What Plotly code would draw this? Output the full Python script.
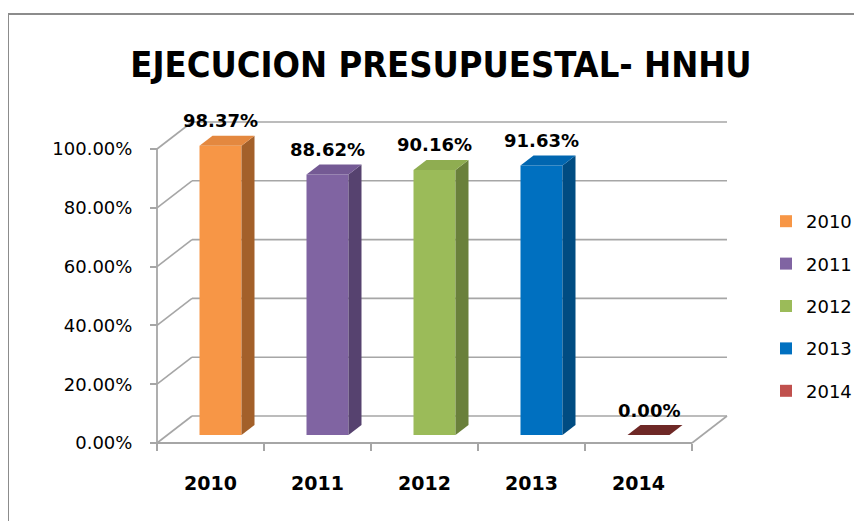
import plotly.graph_objects as go

# ---------------- data ----------------
categories = ["2010", "2011", "2012", "2013", "2014"]
values = [98.37, 88.62, 90.16, 91.63, 0.00]
y_ticks = [0, 20, 40, 60, 80, 100]
y_tick_labels = ["0.00%", "20.00%", "40.00%", "60.00%", "80.00%", "100.00%"]
title_text = "EJECUCION PRESUPUESTAL- HNHU"

# ---------------- style ----------------
front_colors = ["#F79646", "#8064A2", "#9BBB59", "#0070C0", "#C0504D"]
side_colors = ["#A3602A", "#56426F", "#6A803B", "#004C82", "#7A2E2C"]
top_colors = ["#E4883F", "#745A94", "#8FAD51", "#0066B0", "#6E2826"]

W, H = 862, 521
PAGE = 8  # browser body margin: target pixel p -> figure pixel p - PAGE


def fx(p):
    return p - PAGE


def fy(p):
    return p - PAGE


L, T = fx(150), fy(115)
R = W - fx(735)
B = H - fy(450)
PX_CAT = 107.0      # pixels per category
PX_PCT = 2.94       # pixels per percent
FLOOR_PX = fy(443)  # figure row of 0% on front plane
AXIS_LEFT_PX = fx(157)

plot_w = W - L - R
plot_h = H - T - B
x_min = -0.5 - (AXIS_LEFT_PX - L) / PX_CAT
x_max = x_min + plot_w / PX_CAT
y_min = -(H - B - FLOOR_PX) / PX_PCT
y_max = y_min + plot_h / PX_PCT

# 3D depth offsets (in data units)
WALL_DX = 35 / PX_CAT
WALL_DY = 27 / PX_PCT
BAR_W = 42 / PX_CAT
BAR_CENTER = 10 / PX_CAT
BAR_OFF = BAR_CENTER - BAR_W / 2
BAR_BASE = 8 / PX_PCT
FACE_DX = 13 / PX_CAT
FACE_DY = 10 / PX_PCT

GRID = "#A6A6A6"
FONT = "DejaVu Sans, Verdana, sans-serif"

fig = go.Figure()
for i, (cat, v) in enumerate(zip(categories, values)):
    fig.add_trace(go.Bar(
        x=[i], y=[v], base=[BAR_BASE], width=BAR_W, offset=BAR_OFF,
        name=cat, legendgroup=cat,
        marker=dict(color=front_colors[i], line=dict(width=0)),
        hoverinfo="skip",
    ))

shapes = []
x_front_r = len(categories) - 0.5
for t in y_ticks:
    shapes.append(dict(type="line", xref="x", yref="y", layer="below",
                       x0=-0.5, y0=t, x1=-0.5 + WALL_DX, y1=t + WALL_DY,
                       line=dict(color=GRID, width=1.6)))
    shapes.append(dict(type="line", xref="x", yref="y", layer="below",
                       x0=-0.5 + WALL_DX, y0=t + WALL_DY, x1=x_front_r + WALL_DX, y1=t + WALL_DY,
                       line=dict(color=GRID, width=1.6)))
shapes.append(dict(type="line", xref="x", yref="y", layer="below",
                   x0=x_front_r, y0=0, x1=x_front_r + WALL_DX, y1=WALL_DY,
                   line=dict(color=GRID, width=1.6)))
shapes.append(dict(type="line", xref="x", yref="y", layer="below",
                   x0=-0.5, y0=0, x1=x_front_r, y1=0,
                   line=dict(color=GRID, width=1.8)))
shapes.append(dict(type="line", xref="x", yref="y", layer="below",
                   x0=-0.5, y0=0, x1=-0.5, y1=y_ticks[-1],
                   line=dict(color=GRID, width=1.8)))

annotations = []
for i, v in enumerate(values):
    xl = i + BAR_OFF
    xr = xl + BAR_W
    y0 = BAR_BASE
    y1 = BAR_BASE + v
    if v > 0:
        shapes.append(dict(
            type="path", xref="x", yref="y", layer="above",
            path=f"M {xr},{y0} L {xr},{y1} L {xr + FACE_DX},{y1 + FACE_DY} L {xr + FACE_DX},{y0 + FACE_DY} Z",
            fillcolor=side_colors[i], line=dict(width=0)))
    shapes.append(dict(
        type="path", xref="x", yref="y", layer="above",
        path=f"M {xl},{y1} L {xr},{y1} L {xr + FACE_DX},{y1 + FACE_DY} L {xl + FACE_DX},{y1 + FACE_DY} Z",
        fillcolor=top_colors[i], line=dict(width=0)))
    annotations.append(dict(
        x=i + BAR_CENTER, y=y1 + FACE_DY, xref="x", yref="y",
        text=f"<b>{v:.2f}%</b>", showarrow=False, yshift=15,
        font=dict(family=FONT, size=18, color="#000000")))


def px_x(p):
    return (p - L) / plot_w


def px_y(p):
    return (H - B - p) / plot_h


# outer chart frame
shapes.append(dict(type="rect", xref="paper", yref="paper",
                   x0=px_x(fx(8)), y0=px_y(fy(14)), x1=px_x(fx(880)), y1=px_y(fy(540)),
                   line=dict(color="#8C8C8C", width=2), fillcolor="rgba(0,0,0,0)"))

fig.add_trace(go.Scatter(x=[0], y=[0], xaxis="x2", mode="markers",
                         marker=dict(opacity=0), showlegend=False, hoverinfo="skip"))

floor_pos = (H - B - FLOOR_PX) / plot_h
fig.update_layout(
    width=W, height=H,
    margin=dict(l=L, r=R, t=T, b=B, pad=0),
    paper_bgcolor="white", plot_bgcolor="rgba(0,0,0,0)",
    barmode="overlay",
    showlegend=True,
    title=dict(text=f"<b>{title_text}</b>", x=fx(441) / W, xanchor="center",
               y=1 - fy(64) / H, yanchor="middle",
               font=dict(family="Liberation Sans Narrow, Arial Narrow, DejaVu Sans Condensed, sans-serif",
                         size=36, color="#000000")),
    xaxis=dict(range=[x_min, x_max], tickvals=[k - 0.5 for k in range(len(categories) + 1)],
               showticklabels=False, ticks="outside", ticklen=7, tickcolor=GRID, tickwidth=1.5,
               showgrid=False, zeroline=False, showline=False,
               anchor="free", position=floor_pos),
    xaxis2=dict(range=[x_min, x_max], overlaying="x", tickvals=list(range(len(categories))),
                ticktext=[f"<b>{c}</b>" for c in categories], ticks="", showgrid=False,
                zeroline=False, showline=False, anchor="free", position=floor_pos, side="bottom",
                ticklabelstandoff=27,
                tickfont=dict(family=FONT, size=19, color="#000000")),
    yaxis=dict(range=[y_min, y_max], tickvals=y_ticks, ticktext=y_tick_labels,
               ticks="outside", ticklen=7, tickcolor=GRID, tickwidth=1.5,
               showgrid=False, zeroline=False, showline=False,
               anchor="free", position=(AXIS_LEFT_PX - L) / plot_w,
               ticklabelstandoff=14,
               tickfont=dict(family=FONT, size=18, color="#000000")),
    legend=dict(x=px_x(fx(766)), xanchor="left", y=px_y(fy(203)), yanchor="top",
                bgcolor="rgba(0,0,0,0)", tracegroupgap=16,
                font=dict(family=FONT, size=18, color="#000000")),
    shapes=shapes,
    annotations=annotations,
)

fig.write_html("out.html")
